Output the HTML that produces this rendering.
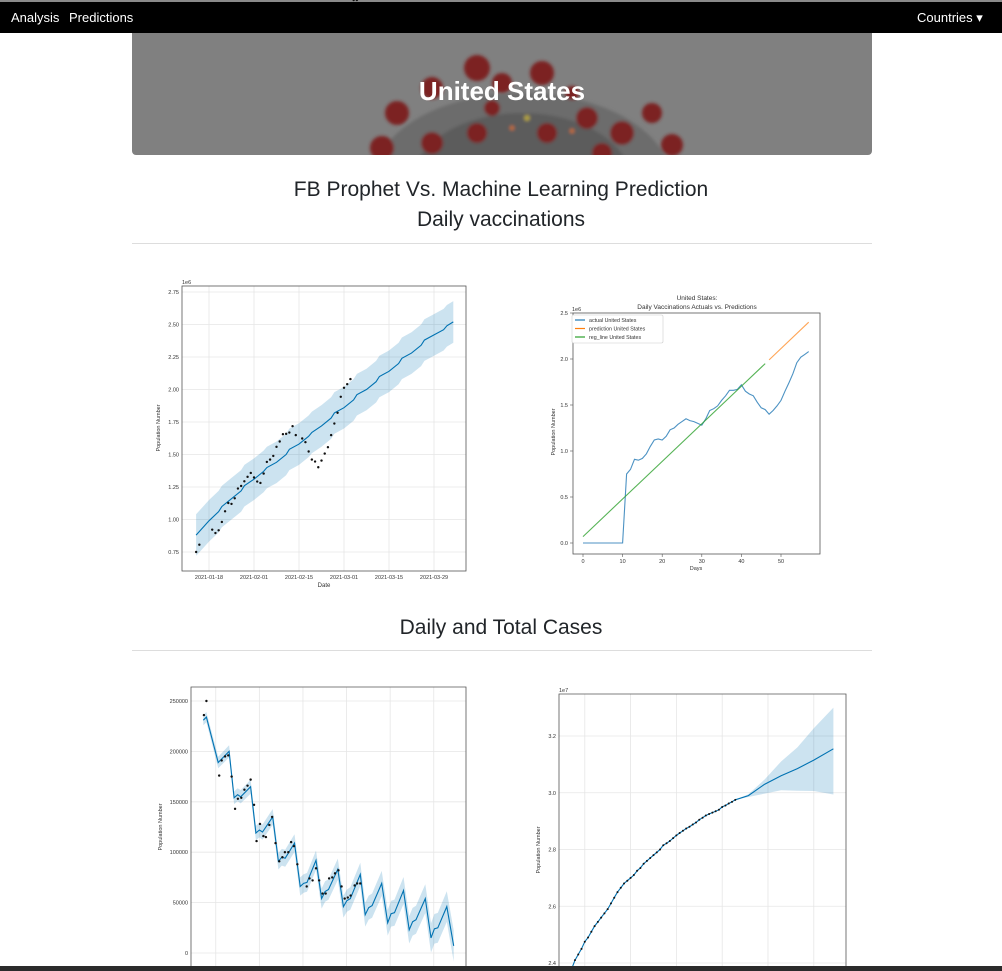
<!DOCTYPE html>
<html><head><meta charset="utf-8"><title>United States</title>
<style>
body{margin:0;width:1002px;height:971px;overflow:hidden;background:#fff;font-family:"Liberation Sans",sans-serif;position:relative}
.top{position:absolute;left:0;top:0;width:1002px;height:2px;background:#8a8a8a}
nav{position:absolute;left:0;top:2px;width:1002px;height:31px;background:#000;color:#fff;font-size:13px}
nav span{position:absolute;top:8px}
.banner{position:absolute;left:132px;top:33px;width:740px;height:122px;background:#808080;border-radius:0 0 4px 4px;overflow:hidden}
.banner h1{position:absolute;left:0;right:0;top:43px;margin:0;text-align:center;color:#fff;font-size:26px;font-weight:bold}
h2{position:absolute;left:0;width:1002px;margin:0;text-align:center;font-size:21px;font-weight:normal;color:#212529}
.hr{position:absolute;left:132px;width:740px;height:1px;background:#ddd}
.bot{position:absolute;left:0;top:966px;width:1002px;height:5px;background:#2b2b2b}
svg text{font-family:"Liberation Sans",sans-serif}
</style></head><body>
<div class="top"></div>
<nav>
<span style="left:11px">Analysis</span>
<span style="left:69px">Predictions</span>
<span style="left:917px">Countries ▾</span>
</nav>
<div class="banner">
<svg width="740" height="122" style="position:absolute;left:0;top:0">
<defs><filter id="bl"><feGaussianBlur stdDeviation="1.5"/></filter></defs>
<g filter="url(#bl)">
<ellipse cx="390" cy="150" rx="150" ry="90" fill="#6c6c6c"/>
<ellipse cx="390" cy="150" rx="110" ry="70" fill="#5c5c5c"/>
<g fill="#7b2222">
<circle cx="265" cy="80" r="12"/><circle cx="300" cy="55" r="11"/><circle cx="345" cy="35" r="13"/><circle cx="370" cy="50" r="10"/><circle cx="410" cy="40" r="12"/><circle cx="455" cy="85" r="11"/><circle cx="490" cy="100" r="12"/><circle cx="520" cy="80" r="10"/><circle cx="250" cy="115" r="12"/><circle cx="300" cy="110" r="11"/><circle cx="345" cy="100" r="10"/><circle cx="415" cy="100" r="10"/><circle cx="470" cy="120" r="10"/><circle cx="540" cy="112" r="11"/><circle cx="360" cy="75" r="8"/><circle cx="440" cy="60" r="7"/>
</g>
<circle cx="395" cy="85" r="3" fill="#b0a040"/><circle cx="380" cy="95" r="2.5" fill="#c06a3a"/><circle cx="440" cy="98" r="2.5" fill="#c06a3a"/>
</g></svg>
<h1>United States</h1>
</div>
<h2 style="top:178px">FB Prophet Vs. Machine Learning Prediction</h2>
<h2 style="top:208px">Daily vaccinations</h2>
<div class="hr" style="top:243px"></div>
<h2 style="top:616px">Daily and Total Cases</h2>
<div class="hr" style="top:650px"></div>
<svg id="charts" width="1002" height="971" style="position:absolute;left:0;top:0"></svg>
<div class="bot"></div>
<script>
// Chart 1: prophet daily vaccinations (days from 2021-01-18, values in 1e6)
const c1PointDays=[-4,-3,1,2,3,4,5,6,7,8,9,10,11,12,13,14,15,16,17,18,19,20,21,22,23,24,25,26,27,29,30,31,32,33,34,35,36,37,38,39,40,41,42,43,44,45,46];
const c1PointVals=[0.75,0.806,0.922,0.896,0.917,0.981,1.063,1.127,1.12,1.163,1.238,1.258,1.294,1.328,1.358,1.323,1.292,1.281,1.353,1.443,1.461,1.489,1.559,1.6,1.656,1.659,1.669,1.718,1.649,1.623,1.595,1.523,1.461,1.446,1.402,1.453,1.507,1.556,1.649,1.738,1.821,1.944,2.013,2.041,2.08];
const c1TrendDays=[-4,0,3,4,7,10,11,14,17,18,21,24,25,28,31,32,35,38,39,42,45,46,49,52,53,56,59,60,63,66,67,70,73,74,76];
const c1TrendVals=[0.88,0.99,1.06,1.10,1.16,1.22,1.26,1.31,1.37,1.40,1.44,1.50,1.54,1.58,1.64,1.67,1.72,1.78,1.82,1.86,1.92,1.96,2.00,2.06,2.10,2.14,2.20,2.24,2.28,2.34,2.38,2.42,2.46,2.49,2.52];
const c1Upper=c1TrendVals.map(v=>v+0.16);
const c1Lower=c1TrendVals.map(v=>v-0.16);
const c1YTicks=[0.75,1.00,1.25,1.50,1.75,2.00,2.25,2.50,2.75];
const c1XTicks=[0,14,28,42,56,70];
const c1XLabels=["2021-01-18","2021-02-01","2021-02-15","2021-03-01","2021-03-15","2021-03-29"];
// Chart 2: actual vs predictions
const c2Actual=[0,0,0,0,0,0,0,0,0,0,0,0.75,0.80,0.91,0.90,0.92,0.97,1.05,1.12,1.13,1.12,1.16,1.23,1.25,1.29,1.32,1.35,1.33,1.32,1.30,1.28,1.35,1.44,1.46,1.49,1.55,1.60,1.66,1.66,1.67,1.72,1.65,1.62,1.60,1.53,1.47,1.45,1.40,1.44,1.49,1.55,1.65,1.74,1.84,1.96,2.02,2.05,2.08];
const c2RegDays=[0,46];const c2RegVals=[0.07,1.95];
const c2PredDays=[47,57];const c2PredVals=[1.99,2.40];
const c2YTicks=[0,0.5,1.0,1.5,2.0,2.5];
const c2XTicks=[0,10,20,30,40,50];
// Chart 3: daily cases
const c3TrendDays=[0,1,4.8,8.3,9.9,11,12,15.2,16.9,18,19,22.3,24.1,25.2,26.3,29.3,31.1,32.2,33.3,36.2,38,39.1,40.2,43.2,45,46.1,47.2,50.4,52,53.1,54.2,57.3,59.2,60.3,61.4,64.3,66.1,67.2,68.3,71.3,73.1,74.2,75.3,78.2,80.4];
const c3TrendVals=[231,234,189,200,154,157,155,165,119,122,120,135,91,95,94,109,66,69,70,92,54,61,63,83,46,52,54,78,38,45,47,69,30,39,40,62,23,31,33,54,15,24,25,46,7];
const c3PointDays=[0.2,1,5.1,5.9,7,8,9.1,10.2,11.1,12.2,13.2,14.2,15.2,16.3,17.1,18.2,19.3,20.1,21.2,22.1,23.2,24.4,25.4,26.2,27.3,28.2,29.1,30.2,33.2,34.1,35.1,36.2,37.2,38.3,39.3,40.4,41.4,42.3,43.4,44.4,45.4,46.4,47.3,48.6,49.4,50.4];
const c3PointVals=[236,250,176,191,195,196,175,143,153,154,162,166,172,147,111,128,116,115,127,135,109,91,95,100,100,110,106,88,66,74,72,84,72,59,59,74,75,79,82,66,54,55,57,67,69,69];
const c3YTicks=[0,50000,100000,150000,200000,250000];
const c3XGrid=[4,18,32,46,60,74];
// Chart 4: total cases (1e7)
const c4Line=[2.38,2.41,2.43,2.45,2.475,2.49,2.51,2.53,2.545,2.56,2.575,2.59,2.61,2.63,2.65,2.665,2.68,2.69,2.70,2.71,2.725,2.735,2.75,2.76,2.77,2.78,2.79,2.80,2.815,2.822,2.83,2.84,2.85,2.858,2.866,2.874,2.88,2.888,2.895,2.905,2.912,2.92,2.925,2.93,2.935,2.94,2.95,2.955,2.962,2.968,2.975];
const c4FcDays=[50,54,59,64,69,74,80];
const c4FcVals=[2.975,2.99,3.03,3.06,3.085,3.115,3.155];
const c4FcUpper=[2.975,2.995,3.047,3.11,3.16,3.227,3.30];
const c4FcLower=[2.975,2.985,2.997,3.009,3.007,3.006,2.994];
const c4YTicks=[2.4,2.6,2.8,3.0,3.2];
const c4XGrid=[4,18,32,46,60,74];

const NS="http://www.w3.org/2000/svg";
const svg=document.getElementById('charts');
function mk(tag,attrs,parent){const e=document.createElementNS(NS,tag);for(const k in attrs)e.setAttribute(k,attrs[k]);(parent||svg).appendChild(e);return e;}
function lin(d0,d1,r0,r1){return v=>r0+(v-d0)*(r1-r0)/(d1-d0);}
function pathOf(xs,ys,X,Y){return xs.map((d,i)=>(i?'L':'M')+X(d).toFixed(1)+','+Y(ys[i]).toFixed(1)).join('');}
function bandOf(xs,up,lo,X,Y){let p=pathOf(xs,up,X,Y);for(let i=xs.length-1;i>=0;i--)p+='L'+X(xs[i]).toFixed(1)+','+Y(lo[i]).toFixed(1);return p+'Z';}
function txt(x,y,s,size,anchor,parent,fill){const t=mk('text',{x:x,y:y,'font-size':size,'text-anchor':anchor||'middle',fill:fill||'#333'},parent);t.textContent=s;return t;}
function frame(x0,y0,x1,y1,g){const r=mk('rect',{x:x0,y:y0,width:x1-x0,height:y1-y0,fill:'none',stroke:'#555','stroke-width':0.8},g);}

// ---------- Chart 1
(function(){
const g=mk('g',{});
const X=lin(0,70,209,434),Y=lin(0.75,2.75,552,292);
c1YTicks.forEach(v=>{mk('line',{x1:182,x2:466,y1:Y(v),y2:Y(v),stroke:'#e6e6e6','stroke-width':0.8},g);const t=txt(179,Y(v)+2,v.toFixed(2),5.5,'end',g);});
c1XTicks.forEach((d,i)=>{mk('line',{x1:X(d),x2:X(d),y1:286,y2:571,stroke:'#e6e6e6','stroke-width':0.8},g);const t=txt(X(d),579,c1XLabels[i],5.5,'middle',g);});
const b=mk('path',{d:bandOf(c1TrendDays,c1Upper,c1Lower,X,Y),fill:'#0072b2','fill-opacity':0.2},g);
const l=mk('path',{d:pathOf(c1TrendDays,c1TrendVals,X,Y),fill:'none',stroke:'#0072b2','stroke-width':1.1},g);
c1PointDays.forEach((d,i)=>{const c=mk('circle',{cx:X(d),cy:Y(c1PointVals[i]),r:1.2,fill:'#111'},g);});
frame(182,286,466,571,g);
txt(182,284,'1e6',5.5,'start',g);
const xt=txt(324,587,'Date',6,'middle',g);
const yt=txt(160,428,'Population Number',5.5,'middle',g);yt.setAttribute('transform','rotate(-90 160 428)');
})();

// ---------- Chart 2
(function(){
const g=mk('g',{});
const X=lin(0,50,583,781),Y=lin(0,2.5,543,313);
frame(573,313,820,554,g);
c2YTicks.forEach(v=>{mk('line',{x1:570,x2:573,y1:Y(v),y2:Y(v),stroke:'#555','stroke-width':0.6},g);const t=txt(568,Y(v)+2,v.toFixed(1),5.5,'end',g);});
c2XTicks.forEach(d=>{mk('line',{x1:X(d),x2:X(d),y1:554,y2:557,stroke:'#555','stroke-width':0.6},g);const t=txt(X(d),563,String(d),5.5,'middle',g);});
const days=c2Actual.map((v,i)=>i);
const a=mk('path',{d:pathOf(days,c2Actual,X,Y),fill:'none',stroke:'#1f77b4','stroke-width':1.1,'stroke-opacity':0.8},g);
const p=mk('path',{d:pathOf(c2PredDays,c2PredVals,X,Y),fill:'none',stroke:'#ff7f0e','stroke-width':1.1,'stroke-opacity':0.7},g);
const r=mk('path',{d:pathOf(c2RegDays,c2RegVals,X,Y),fill:'none',stroke:'#2ca02c','stroke-width':1.1,'stroke-opacity':0.8},g);
const lg=mk('g',{},g);
mk('rect',{x:572,y:315,width:91,height:28,fill:'#fff',stroke:'#ccc','stroke-width':0.6,rx:1.5},lg);
[['actual United States','#1f77b4'],['prediction United States','#ff7f0e'],['reg_line United States','#2ca02c']].forEach((e,i)=>{const y=320+i*8.5;mk('line',{x1:575,x2:585,y1:y,y2:y,stroke:e[1],'stroke-width':1.2},lg);const t=txt(589,y+2,e[0],5.3,'start',lg);});
txt(697,300,'United States:',6.5,'middle',g);
const tt=txt(697,309,'Daily Vaccinations Actuals vs. Predictions',6.5,'middle',g);
txt(572,311,'1e6',5.5,'start',g);
const xt=txt(696,570,'Days',5.5,'middle',g);
const yt=txt(555,432,'Population Number',5.5,'middle',g);yt.setAttribute('transform','rotate(-90 555 432)');
})();

// ---------- Chart 3
(function(){
const g=mk('g',{});
const X=lin(0,7,203.3,225.1),Y=lin(0,250000,953,701),Yk=v=>Y(v*1000);
c3YTicks.forEach(v=>{mk('line',{x1:191,x2:466,y1:Y(v),y2:Y(v),stroke:'#e6e6e6','stroke-width':0.8},g);const t=txt(188,Y(v)+2,String(v),5.5,'end',g);});
c3XGrid.forEach(d=>mk('line',{x1:X(d),x2:X(d),y1:687,y2:971,stroke:'#e6e6e6','stroke-width':0.8},g));
const up=c3TrendVals.map((v,i)=>v+5+c3TrendDays[i]*0.13),lo=c3TrendVals.map((v,i)=>v-5-c3TrendDays[i]*0.13);
const b=mk('path',{d:bandOf(c3TrendDays,up,lo,X,Yk),fill:'#0072b2','fill-opacity':0.2},g);
const l=mk('path',{d:pathOf(c3TrendDays,c3TrendVals,X,Yk),fill:'none',stroke:'#0072b2','stroke-width':1.1},g);
c3PointDays.forEach((d,i)=>{const c=mk('circle',{cx:X(d),cy:Yk(c3PointVals[i]),r:1.2,fill:'#111'},g);});
mk('path',{d:'M191,971V687H466V971',fill:'none',stroke:'#555','stroke-width':0.8},g);
const yt=txt(162,827,'Population Number',5.5,'middle',g);yt.setAttribute('transform','rotate(-90 162 827)');
})();

// ---------- Chart 4
(function(){
const g=mk('g',{});
const X=lin(0,14,571.7,617.5),Y=lin(2.4,3.2,963,736);
c4YTicks.forEach(v=>{mk('line',{x1:559,x2:846,y1:Y(v),y2:Y(v),stroke:'#e6e6e6','stroke-width':0.8},g);const t=txt(556,Y(v)+2,v.toFixed(1),5.5,'end',g);});
c4XGrid.forEach(d=>mk('line',{x1:X(d),x2:X(d),y1:694,y2:971,stroke:'#e6e6e6','stroke-width':0.8},g));
const b=mk('path',{d:bandOf(c4FcDays,c4FcUpper,c4FcLower,X,Y),fill:'#0072b2','fill-opacity':0.2},g);
const days=c4Line.map((v,i)=>i);
const l=mk('path',{d:pathOf(days,c4Line,X,Y)+pathOf(c4FcDays,c4FcVals,X,Y).replace('M','L'),fill:'none',stroke:'#0072b2','stroke-width':1.1},g);
c4Line.forEach((v,i)=>{const c=mk('circle',{cx:X(i),cy:Y(v),r:1,fill:'#111'},g);});
mk('path',{d:'M559,971V694H846V971',fill:'none',stroke:'#555','stroke-width':0.8},g);
txt(559,692,'1e7',5.5,'start',g);
const yt=txt(540,850,'Population Number',5.5,'middle',g);yt.setAttribute('transform','rotate(-90 540 850)');
})();
</script>
</body></html>
